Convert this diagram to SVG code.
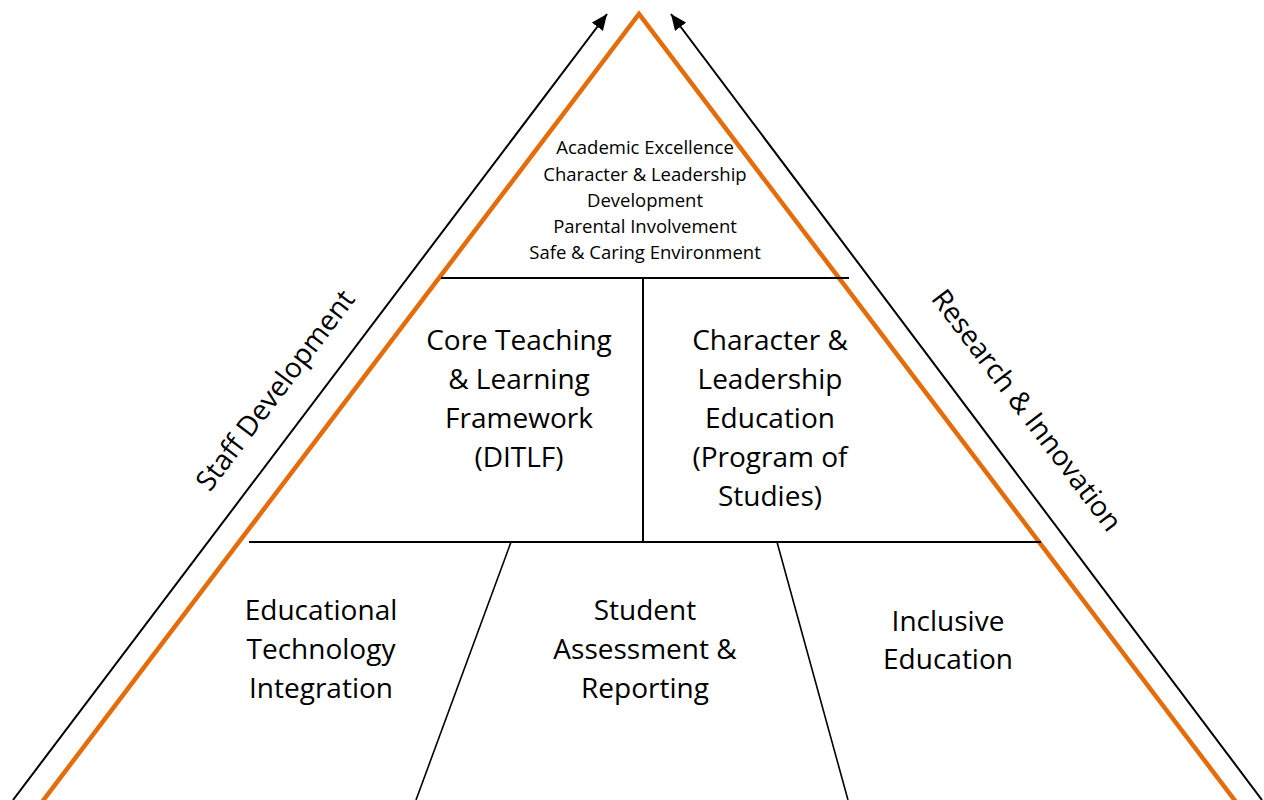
<svg xmlns="http://www.w3.org/2000/svg" width="1264" height="800" viewBox="0 0 1264 800">
<style>
text{font-family:"Open Sans","Liberation Sans",sans-serif;fill:#000;text-anchor:middle}
.s{font-size:18.5px}
.b{font-size:28px}
.ln{stroke:#000;stroke-width:2;fill:none}
.thin{stroke:#000;stroke-width:1.6;fill:none}
.or{stroke:#E46C0A;stroke-width:4.5;fill:none;stroke-linejoin:miter}
</style>
<defs>
<marker id="a2" viewBox="0 0 16 14" refX="16" refY="7" markerWidth="16" markerHeight="14" markerUnits="userSpaceOnUse" orient="auto">
<path d="M0,0 L16,7 L0,14 z" fill="#000"/>
</marker>
</defs>
<g id="connectors">
<line class="ln" x1="13" y1="800" x2="607" y2="14" marker-end="url(#a2)"/>
<line class="ln" x1="1262" y1="800" x2="671" y2="14" marker-end="url(#a2)"/>
</g>
<g id="pyramid">
<polyline class="or" points="42,802 639,14 1236,802"/>
</g>
<g id="dividers">
<line class="ln" x1="441" y1="278" x2="849" y2="278"/>
<line class="ln" x1="643" y1="278" x2="643" y2="542"/>
<line class="ln" x1="249" y1="542" x2="1041" y2="542"/>
<line class="thin" x1="511" y1="542" x2="416" y2="800"/>
<line class="thin" x1="777" y1="542" x2="848" y2="800"/>
</g>
<g id="apex">
<text class="s" x="645" y="154">Academic Excellence</text>
<text class="s" x="645" y="181">Character &amp; Leadership</text>
<text class="s" x="645" y="207">Development</text>
<text class="s" x="645" y="233">Parental Involvement</text>
<text class="s" x="645" y="259">Safe &amp; Caring Environment</text>
</g>
<g id="core">
<text class="b" x="519" y="350">Core Teaching</text>
<text class="b" x="519" y="389">&amp; Learning</text>
<text class="b" x="519" y="428">Framework</text>
<text class="b" x="519" y="467">(DITLF)</text>
</g>
<g id="character">
<text class="b" x="770" y="350">Character &amp;</text>
<text class="b" x="770" y="389">Leadership</text>
<text class="b" x="770" y="428">Education</text>
<text class="b" x="770" y="467">(Program of</text>
<text class="b" x="770" y="506">Studies)</text>
</g>
<g id="edtech">
<text class="b" x="321" y="620">Educational</text>
<text class="b" x="321" y="659">Technology</text>
<text class="b" x="321" y="698">Integration</text>
</g>
<g id="assessment">
<text class="b" x="645" y="620">Student</text>
<text class="b" x="645" y="659">Assessment &amp;</text>
<text class="b" x="645" y="698">Reporting</text>
</g>
<g id="inclusive">
<text class="b" x="948" y="631">Inclusive</text>
<text class="b" x="948" y="669">Education</text>
</g>
<g id="staff">
<text class="b" transform="translate(275,390) rotate(-52.9)" y="10">Staff Development</text>
</g>
<g id="research">
<text class="b" transform="translate(1027,410) rotate(52.9)" y="10">Research &amp; Innovation</text>
</g>
</svg>
